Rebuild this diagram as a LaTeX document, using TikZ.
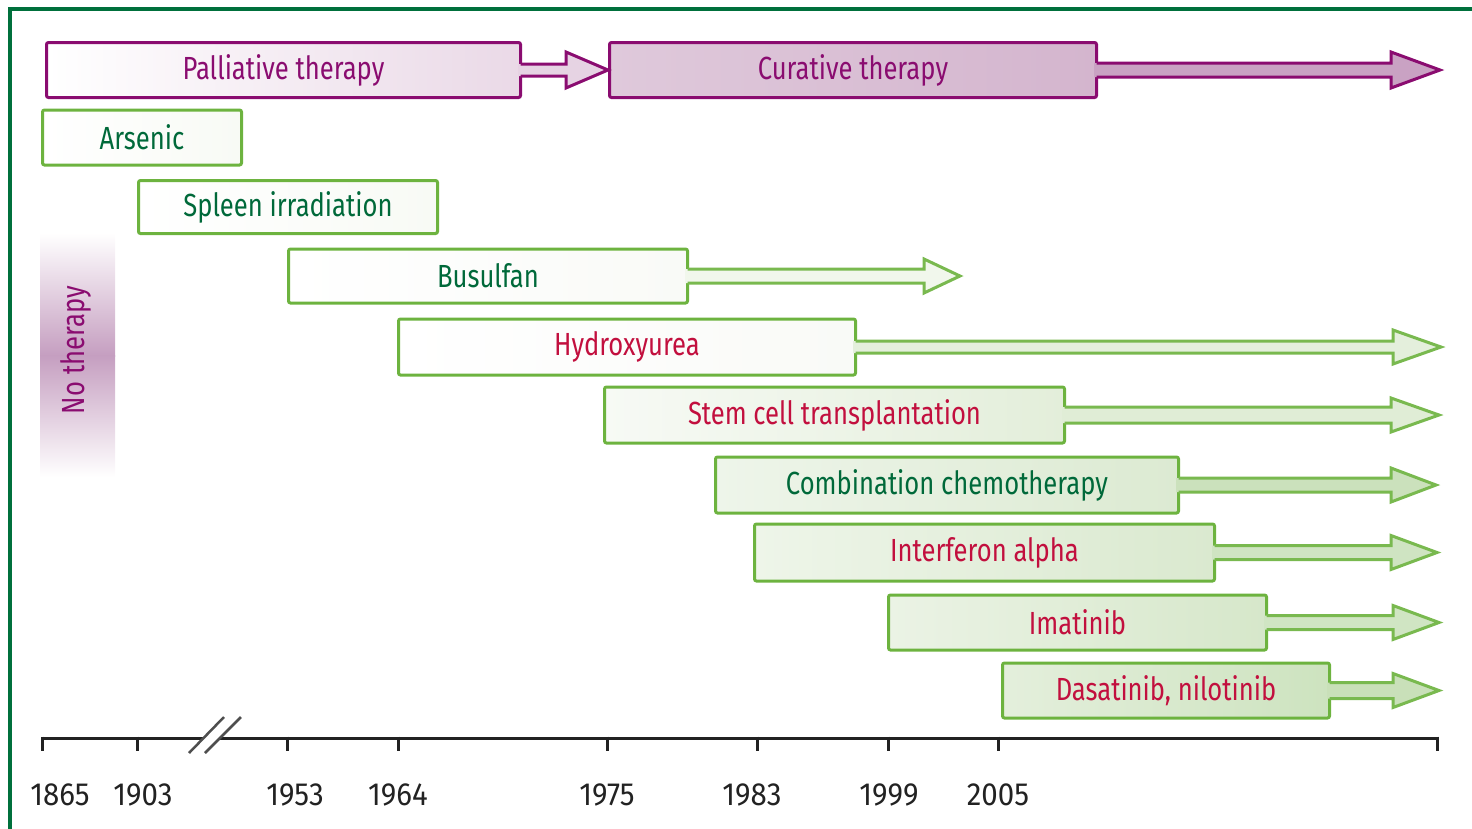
\documentclass[tikz,border=0pt]{standalone}
\usepackage{fontspec}
\setmainfont[FakeStretch=0.8]{Fira Sans}
\newfontfamily\yearfont[FakeStretch=0.92]{Fira Sans}
\usetikzlibrary{calc}
\definecolor{frameg}{HTML}{00703C}
\definecolor{boxg}{HTML}{6DB33F}
\definecolor{arrg}{HTML}{79B94F}
\definecolor{txtg}{HTML}{00693A}
\definecolor{txtr}{HTML}{C20F3E}
\definecolor{purp}{HTML}{8A0C70}
\definecolor{ntp}{HTML}{C59EC0}
\definecolor{axc}{HTML}{222222}
\definecolor{palR}{HTML}{EAD9E7}
\definecolor{curL}{HTML}{DFC9DB}
\definecolor{curR}{HTML}{D4B5CE}
\definecolor{palA}{HTML}{E6D3E3}
\definecolor{curA}{HTML}{C9A2C3}
\definecolor{g1}{HTML}{F8FAF5}
\definecolor{g2}{HTML}{F9FAF7}
\definecolor{g3}{HTML}{F7FAF5}
\definecolor{g3r}{HTML}{E3EEDA}
\definecolor{g4}{HTML}{EEF5EA}
\definecolor{g4r}{HTML}{DCEAD2}
\definecolor{g5}{HTML}{EEF5E9}
\definecolor{g5r}{HTML}{DAE9CF}
\definecolor{g6}{HTML}{EBF3E5}
\definecolor{g6r}{HTML}{D6E7CA}
\definecolor{g7}{HTML}{E4EFDC}
\definecolor{g7r}{HTML}{CDE3BF}
\definecolor{aBus}{HTML}{F1F7EC}
\definecolor{aHyd}{HTML}{E4EFDC}
\definecolor{aStem}{HTML}{E0EDD6}
\definecolor{aComb}{HTML}{CBE1BC}
\definecolor{aInt}{HTML}{CFE4C2}
\definecolor{aIma}{HTML}{D0E5C3}
\definecolor{aDas}{HTML}{C9E0B9}
\newcommand{\tharrow}[7]{% #1 node, #2 tip, #3 head length, #4 half head, #5 half shaft, #6 fill, #7 line
  \fill[#6] ($(#1.east)+(-4,-#5)$) -- ($(#2)+(-#3,-#5)$) -- ($(#2)+(-#3,-#4)$) -- (#2) -- ($(#2)+(-#3,#4)$) -- ($(#2)+(-#3,#5)$) -- ($(#1.east)+(-4,#5)$) -- cycle;
  \draw[#7, line width=3, line join=miter] ($(#1.east)+(-1.5,-#5)$) -- ($(#2)+(-#3,-#5)$) -- ($(#2)+(-#3,-#4)$) -- (#2) -- ($(#2)+(-#3,#4)$) -- ($(#2)+(-#3,#5)$) -- ($(#1.east)+(-1.5,#5)$);}
\begin{document}
\begin{tikzpicture}[x=1pt,y=-1pt,
  font=\fontsize{32}{36}\selectfont,
  tbox/.style={line width=3, rounded corners=2, minimum height=55, inner sep=0, anchor=west},
  gbox/.style={tbox, draw=boxg},
  pbox/.style={tbox, draw=purp, text=purp},
  yearlab/.style={text=axc, inner sep=0, font=\yearfont\fontsize{32}{36}\selectfont},
  tick/.style={line width=3, axc}]
\useasboundingbox (0,0) rectangle (1472,828);
% frame
\draw[frameg, line width=4] (9.5,830) -- (9.5,9) -- (1474,9);
% no therapy bar
\shade[top color=white, bottom color=ntp] (40,233) rectangle (115,356);
\shade[top color=ntp, bottom color=white] (40,355) rectangle (115,477);
\node[rotate=90, text=purp, inner sep=0] (nt) at (76,350) {No therapy};
% top bars
\node[pbox, minimum width=474, left color=white, right color=palR] (pal) at (45,70) {Palliative therapy};
\node[pbox, minimum width=487, left color=curL, right color=curR] (cur) at (608,70) {Curative therapy};
\coordinate (curtip) at (1440,70);
\tharrow{pal}{cur.west}{42}{18}{6}{palA}{purp}
\tharrow{cur}{curtip}{49}{18}{7}{curA}{purp}
% green boxes
\node[gbox, minimum width=199, left color=white, right color=g1, text=txtg] (ars) at (41,137.5) {Arsenic};
\node[gbox, minimum width=299, minimum height=53, left color=white, right color=g1, text=txtg] (spl) at (137,207) {Spleen irradiation};
\node[gbox, minimum width=399, minimum height=54, left color=white, right color=g2, text=txtg] (bus) at (287,276) {Busulfan};
\node[gbox, minimum width=457, minimum height=56, left color=white, right color=g2, text=txtr] (hyd) at (397,347) {Hydroxyurea};
\node[gbox, minimum width=460, minimum height=56, left color=g3, right color=g3r, text=txtr] (stem) at (603,415) {Stem cell transplantation};
\node[gbox, minimum width=463, minimum height=56, left color=g4, right color=g4r, text=txtg] (comb) at (714,485) {Combination chemotherapy};
\node[gbox, minimum width=460, minimum height=57, left color=g5, right color=g5r, text=txtr] (int) at (753,552.5) {Interferon alpha};
\node[gbox, minimum width=378, left color=g6, right color=g6r, text=txtr] (ima) at (887,622.5) {Imatinib};
\node[gbox, minimum width=327, left color=g7, right color=g7r, text=txtr] (das) at (1001,690.5) {Dasatinib, nilotinib};
% arrow tips
\coordinate (tbus) at (960,276);
\coordinate (thyd) at (1441,347);
\coordinate (tstem) at (1439,415);
\coordinate (tcomb) at (1436,485);
\coordinate (tint) at (1437,552.5);
\coordinate (tima) at (1439,622.5);
\coordinate (tdas) at (1439,690.5);
\tharrow{bus}{tbus}{36}{17}{7}{aBus}{arrg}
\tharrow{hyd}{thyd}{48}{17}{6}{aHyd}{arrg}
\tharrow{stem}{tstem}{48}{17}{8}{aStem}{arrg}
\tharrow{comb}{tcomb}{45}{17}{7}{aComb}{arrg}
\tharrow{int}{tint}{46}{17}{7}{aInt}{arrg}
\tharrow{ima}{tima}{46}{17}{7}{aIma}{arrg}
\tharrow{das}{tdas}{46}{17}{8}{aDas}{arrg}
% axis
\coordinate (axL) at (42,738);
\coordinate (axB1) at (203,738);
\coordinate (axB2) at (219,738);
\coordinate (axR) at (1437,738);
\draw[line width=3, axc] (axL) -- (axB1);
\draw[line width=3, axc] (axB2) -- (axR);
\draw[line width=2.5, axc!80] (189,753) -- (224,717);
\draw[line width=2.5, axc!80] (205,753) -- (241,717);
\foreach \tx in {42,137,287,398,607,757,888,998,1437}
  \draw[tick] (\tx,736.5) -- (\tx,751);
\node[yearlab] (y1865) at (60,795) {1865};
\node[yearlab] (y1903) at (143,795) {1903};
\node[yearlab] (y1953) at (295,795) {1953};
\node[yearlab] (y1964) at (398,795) {1964};
\node[yearlab] (y1975) at (607,795) {1975};
\node[yearlab] (y1983) at (752,795) {1983};
\node[yearlab] (y1999) at (889,795) {1999};
\node[yearlab] (y2005) at (998,795) {2005};
\end{tikzpicture}
\end{document}
